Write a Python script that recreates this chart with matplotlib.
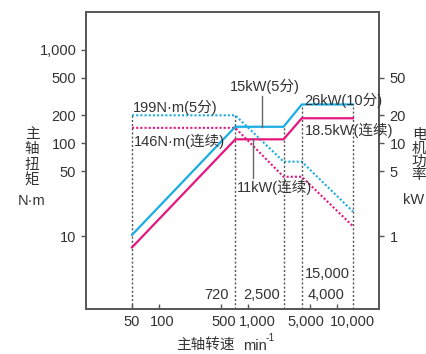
import matplotlib
matplotlib.use("Agg")
import matplotlib.pyplot as plt
import matplotlib.transforms as mtransforms
from matplotlib.ticker import FixedLocator, NullLocator, FixedFormatter

plt.rcParams['font.family'] = ['Liberation Sans', 'Noto Sans CJK SC', 'DejaVu Sans']

# ---------------- data ----------------
# torque curves (left axis, N·m), dotted
torque_speeds = [50, 720, 2500, 4000, 15000]
torque_5min = [199, 199, 63.4, 63.4, 18.5]
torque_cont = [146, 146, 43.7, 43.7, 12.9]
# power curves (right axis, kW), solid
power_speeds = [50, 720, 2500, 4000, 15000]
power_short = [1.04, 15, 15, 26, 26]
power_cont = [0.764, 11, 11, 18.5, 18.5]
# reference speeds (grey dotted guides)
guide_speeds_torque = [50, 720]
guide_tops_torque = [199, 199]
guide_speeds_power = [2500, 4000, 15000]
guide_tops_power = [15, 26, 26]
# leader lines: (speed, kW from, kW to)
leader_15kw = (1430, 15, 32)
leader_11kw = (1136, 11, 4.25)

x_ticks = [50, 100, 500, 1000, 5000, 10000]
x_ticklabels = ['50', '100', '500', '1,000', '5,000', '10,000']
x_label_shift_px = [0, 3, 3, 9, -5, 15]
y_ticks = [10, 50, 100, 200, 500, 1000]
y_ticklabels = ['10', '50', '100', '200', '500', '1,000']
y2_ticks = [1, 5, 10, 20, 50]
y2_ticklabels = ['1', '5', '10', '20', '50']

BLUE = '#19ADE4'
PINK = '#E5167E'
GREY = '#555555'
TXT = '#333333'

W, H = 426, 354
fig = plt.figure(figsize=(W / 100, H / 100), dpi=100)
L, R, T, B = 86, 379, 12, 308.7
ax = fig.add_axes([L / W, 1 - B / H, (R - L) / W, (B - T) / H])
ax.set_xscale('log')
ax.set_yscale('log')
ax.set_xlim(15.25, 29380)
ylo, yhi = 1.683, 2548
ax.set_ylim(ylo, yhi)
ax2 = ax.twinx()
ax2.set_yscale('log')
ax2.set_ylim(ylo / 10, yhi / 10)

for a in (ax, ax2):
    for s in a.spines.values():
        s.set_color(GREY)
        s.set_linewidth(1.2)

# dotted torque
ax.plot(torque_speeds, torque_5min, color=BLUE, lw=1.5, linestyle=(0, (1.0, 1.0)), dash_capstyle='butt')
ax.plot(torque_speeds, torque_cont, color=PINK, lw=1.5, linestyle=(0, (1.0, 1.0)), dash_capstyle='butt')
# solid power
ax2.plot(power_speeds, power_short, color=BLUE, lw=1.6, solid_joinstyle='miter')
ax2.plot(power_speeds, power_cont, color=PINK, lw=1.6, solid_joinstyle='miter')

# guides
for sx, top in zip(guide_speeds_torque, guide_tops_torque):
    ax.plot([sx, sx], [ylo, top], color=GREY, lw=1.0, linestyle=(0, (1.5, 1.5)), zorder=1)
for sx, top in zip(guide_speeds_power, guide_tops_power):
    ax2.plot([sx, sx], [ylo / 10, top], color=GREY, lw=1.0, linestyle=(0, (1.5, 1.5)), zorder=1)

# leader lines
for sp, a0, a1 in (leader_15kw, leader_11kw):
    ax2.plot([sp, sp], [a0, a1], color='#666666', lw=1.0)

# ticks
ax.xaxis.set_major_locator(FixedLocator(x_ticks))
ax.xaxis.set_minor_locator(NullLocator())
ax.xaxis.set_major_formatter(FixedFormatter(x_ticklabels))
ax.yaxis.set_major_locator(FixedLocator(y_ticks))
ax.yaxis.set_minor_locator(NullLocator())
ax.yaxis.set_major_formatter(FixedFormatter(y_ticklabels))
ax2.yaxis.set_major_locator(FixedLocator(y2_ticks))
ax2.yaxis.set_minor_locator(NullLocator())
ax2.yaxis.set_major_formatter(FixedFormatter(y2_ticklabels))

ax.tick_params(axis='x', direction='in', length=3.5, width=1.0, color=GREY,
               labelsize=10.5, labelcolor=TXT, pad=4.5)
ax.tick_params(axis='y', direction='out', length=3.5, width=1.0, color=GREY,
               labelsize=10.5, labelcolor=TXT, pad=3.5)
ax2.tick_params(axis='y', direction='out', length=3.5, width=1.0, color=GREY,
                labelsize=10.5, labelcolor=TXT, pad=4)

fig.canvas.draw()
for lab, dx in zip(ax.get_xticklabels(), x_label_shift_px):
    lab.set_transform(lab.get_transform() + mtransforms.ScaledTranslation(dx / 100, 0, fig.dpi_scale_trans))


def ftext(x, y, s, ha='left', va='center', size=10.5, **kw):
    fig.text(x / W, 1 - y / H, s, ha=ha, va=va, fontsize=size, color=TXT, **kw)


# annotations
ftext(133, 107, '199N·m(5分)')
ftext(134, 141, '146N·m(连续)')
ftext(230, 86, '15kW(5分)')
ftext(304, 100, '26kW(10分)')
ftext(305, 130, '18.5kW(连续)')
ftext(237, 187, '11kW(连续)')
ftext(229, 295, '720', ha='right')
ftext(280, 295, '2,500', ha='right')
ftext(308, 295, '4,000')
ftext(350, 274, '15,000', ha='right')

# y labels (stacked)
for ch, yy in zip('主轴扭矩', [134, 149.5, 165, 180.5]):
    ftext(32, yy, ch, ha='center', size=10.5)
ftext(32, 201, 'N·m', ha='center')
for ch, yy in zip('电机功率', [135, 148.5, 162, 175.5]):
    ftext(419, yy, ch, ha='center', size=10.5)
ftext(424, 200, 'kW', ha='right')

# x label
ftext(176, 345, '主轴转速', ha='left')
ftext(243, 346, 'min', ha='left')
ftext(266, 338, '-1', ha='left', size=7.5)

fig.savefig('out.png', dpi=100)
